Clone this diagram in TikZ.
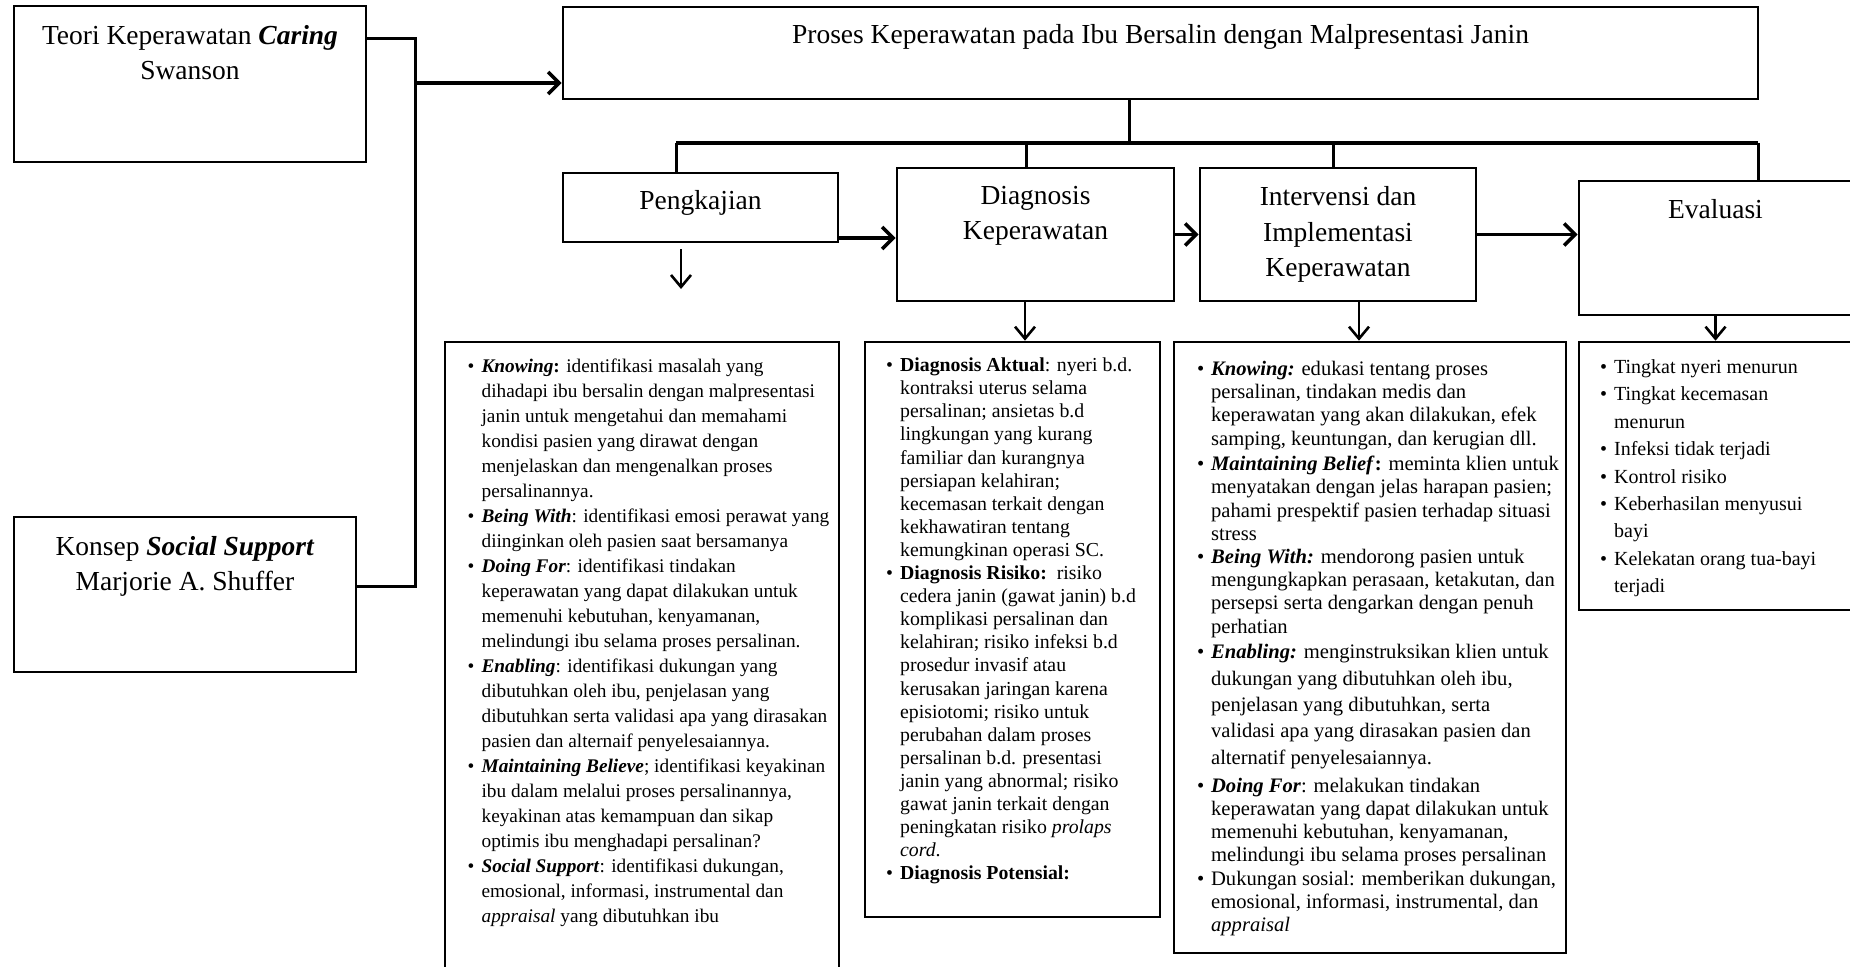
\documentclass[tikz,border=0pt]{standalone}
\usepackage{fontspec}
\setmainfont{Liberation Serif}
\usetikzlibrary{positioning, arrows.meta}
\newcommand{\lsbul}{\makebox[7pt][l]{\textbullet}}
\newcommand{\lsind}{\hspace*{7pt}}
\newcommand{\bitl}[1]{\textbf{\textit{#1}}}

\begin{document}
\begin{tikzpicture}[x=0.5pt,y=-0.5pt,
  box/.style={draw,line width=1.3pt,inner sep=0pt},
  head/.style={inner sep=0pt,align=center,font=\fontsize{13.75}{17.75}\selectfont},
  list/.style={inner sep=0pt,align=left},
  conn/.style={line width=1.5pt},
  bar/.style={line width=2.2pt},
  arr/.style={line width=1.8pt,-{Straight Barb[length=5.5pt,width=11pt]}},
  down/.style={line width=1.3pt,-{Straight Barb[length=6pt,width=10pt]}}]
\useasboundingbox (0,0) rectangle (1850,966);
\clip (0,0) rectangle (1850,966);

\node[box,minimum width=176pt,minimum height=78pt] (teori) at (190,84) {};
\node[head,below=10pt of teori.north] (teoriTxt) {Teori Keperawatan \bitl{Caring}\\Swanson};
\node[box,minimum width=171pt,minimum height=77.5pt] (konsep) at (185,594.5) {};
\node[head,below=10pt of konsep.north] (konsepTxt) {Konsep \bitl{Social Support}\\Marjorie A. Shuffer};

\node[box,minimum width=597.5pt,minimum height=46pt] (proses) at (1160.5,53) {};
\node[head,below=9pt of proses.north] (prosesTxt) {Proses Keperawatan pada Ibu Bersalin dengan Malpresentasi Janin};

\node[box,minimum width=137.5pt,minimum height=34.5pt] (peng) at (700.5,207.5) {};
\node[head,below=9pt of peng.north] (pengTxt) {Pengkajian};
\node[box,minimum width=138.5pt,minimum height=66.5pt] (diag) at (1035.5,234.5) {};
\node[head,below=9.5pt of diag.north] (diagTxt) {Diagnosis\\Keperawatan};
\node[box,minimum width=138pt,minimum height=66.5pt] (inter) at (1338,234.5) {};
\node[head,below=9.75pt of inter.north] (interTxt) {Intervensi dan\\Implementasi\\Keperawatan};
\node[box,minimum width=136.5pt,minimum height=67pt] (eval) at (1715.5,248) {};
\node[head,below=9.75pt of eval.north] (evalTxt) {Evaluasi};

\node[box,minimum width=197pt,minimum height=319pt] (pengList) at (642,661) {};
\node[box,minimum width=147.5pt,minimum height=287.5pt] (diagList) at (1012.5,629.5) {};
\node[box,minimum width=196pt,minimum height=305.5pt] (interList) at (1370,647.5) {};
\node[box,minimum width=136.5pt,minimum height=134pt] (evalList) at (1715.5,476) {};

\node[list,font=\fontsize{9.65}{12.5}\selectfont,below right=8.8pt and 11.75pt of pengList.north west] (pengItems) {%
\lsbul\bitl{Knowing}\textbf{:} identifikasi masalah yang\\
\lsind dihadapi ibu bersalin dengan malpresentasi\\
\lsind janin untuk mengetahui dan memahami\\
\lsind kondisi pasien yang dirawat dengan\\
\lsind menjelaskan dan mengenalkan proses\\
\lsind persalinannya.\\
\lsbul\bitl{Being With}: identifikasi emosi perawat yang\\
\lsind diinginkan oleh pasien saat bersamanya\\
\lsbul\bitl{Doing For}: identifikasi tindakan\\
\lsind keperawatan yang dapat dilakukan untuk\\
\lsind memenuhi kebutuhan, kenyamanan,\\
\lsind melindungi ibu selama proses persalinan.\\
\lsbul\bitl{Enabling}: identifikasi dukungan yang\\
\lsind dibutuhkan oleh ibu, penjelasan yang\\
\lsind dibutuhkan serta validasi apa yang dirasakan\\
\lsind pasien dan alternaif penyelesaiannya.\\
\lsbul\bitl{Maintaining Believe}; identifikasi keyakinan\\
\lsind ibu dalam melalui proses persalinannya,\\
\lsind keyakinan atas kemampuan dan sikap\\
\lsind optimis ibu menghadapi persalinan?\\
\lsbul\bitl{Social Support}: identifikasi dukungan,\\
\lsind emosional, informasi, instrumental dan\\
\lsind \textit{appraisal} yang dibutuhkan ibu};

\node[list,font=\fontsize{9.9}{11.55}\selectfont,below right=8.4pt and 11pt of diagList.north west] (diagItems) {%
\lsbul\textbf{Diagnosis Aktual}: nyeri b.d.\\
\lsind kontraksi uterus selama\\
\lsind persalinan; ansietas b.d\\
\lsind lingkungan yang kurang\\
\lsind familiar dan kurangnya\\
\lsind persiapan kelahiran;\\
\lsind kecemasan terkait dengan\\
\lsind kekhawatiran tentang\\
\lsind kemungkinan operasi SC.\\
\lsbul\textbf{Diagnosis Risiko:}\ \ risiko\\
\lsind cedera janin (gawat janin) b.d\\
\lsind komplikasi persalinan dan\\
\lsind kelahiran; risiko infeksi b.d\\
\lsind prosedur invasif atau\\
\lsind kerusakan jaringan karena\\
\lsind episiotomi; risiko untuk\\
\lsind perubahan dalam proses\\
\lsind persalinan b.d. presentasi\\
\lsind janin yang abnormal; risiko\\
\lsind gawat janin terkait dengan\\
\lsind peningkatan risiko \textit{prolaps}\\
\lsind \textit{cord}.\\
\lsbul\textbf{Diagnosis Potensial:}};

\node[list,font=\fontsize{10.3}{11.6}\selectfont,below right=10pt and 12pt of interList.north west] (interItems) {%
\lsbul\bitl{Knowing:} edukasi tentang proses\\
\lsind persalinan, tindakan medis dan\\
\lsind keperawatan yang akan dilakukan, efek\\
\lsind samping, keuntungan, dan kerugian dll.\\[1.2pt]
\lsbul\bitl{Maintaining Belief}\textbf{:} meminta klien untuk\\
\lsind menyatakan dengan jelas harapan pasien;\\
\lsind pahami prespektif pasien terhadap situasi\\
\lsind stress\\
\lsbul\bitl{Being With:} mendorong pasien untuk\\
\lsind mengungkapkan perasaan, ketakutan, dan\\
\lsind persepsi serta dengarkan dengan penuh\\
\lsind perhatian\\[1.2pt]
\lsbul\bitl{Enabling:} menginstruksikan klien untuk\\[1.6pt]
\lsind dukungan yang dibutuhkan oleh ibu,\\[1.6pt]
\lsind penjelasan yang dibutuhkan, serta\\[1.6pt]
\lsind validasi apa yang dirasakan pasien dan\\[1.6pt]
\lsind alternatif penyelesaiannya.\\[2.4pt]
\lsbul\bitl{Doing For}: melakukan tindakan\\
\lsind keperawatan yang dapat dilakukan untuk\\
\lsind memenuhi kebutuhan, kenyamanan,\\
\lsind melindungi ibu selama proses persalinan\\
\lsbul Dukungan sosial: memberikan dukungan,\\
\lsind emosional, informasi, instrumental, dan\\
\lsind \textit{appraisal}};

\node[list,font=\fontsize{10}{13.7}\selectfont,below right=9.3pt and 11pt of evalList.north west] (evalItems) {%
\lsbul Tingkat nyeri menurun\\
\lsbul Tingkat kecemasan\\
\lsind menurun\\
\lsbul Infeksi tidak terjadi\\
\lsbul Kontrol risiko\\
\lsbul Keberhasilan menyusui\\
\lsind bayi\\
\lsbul Kelekatan orang tua-bayi\\
\lsind terjadi};

\coordinate (jTop) at (415,38);
\coordinate (jMid) at (415,83);
\coordinate (jBot) at (415,586);
\draw[conn] (teori.east |- jTop) -- (jTop) -- (jBot) -- (konsep.east |- jBot);
\draw[arr] (jMid) -- (proses.west |- jMid);

\coordinate (trunk) at (1129,143);
\coordinate (barL) at (676,143);
\coordinate (barR) at (1758,143);
\coordinate (dDiag) at (1026,143);
\coordinate (dInter) at (1333,143);
\draw[conn] (trunk |- proses.south) -- (trunk);
\draw[bar] (barL) -- (barR);
\draw[conn] (barL) -- (barL |- peng.north);
\draw[conn] (dDiag) -- (dDiag |- diag.north);
\draw[conn] (dInter) -- (dInter |- inter.north);
\draw[conn] (barR) -- (barR |- eval.north);

\coordinate (pdY) at (0,238);
\draw[arr] (peng.east |- pdY) -- (diag.west |- pdY);
\draw[arr] (diag.east) -- (inter.west);
\draw[arr] (inter.east) -- (inter.east -| eval.west);

\coordinate (pA) at (681,249);
\coordinate (pB) at (681,289);
\coordinate (dgx) at (1025,0);
\coordinate (itx) at (1359,0);
\draw[down] (pA) -- (pB);
\draw[down] (diag.south -| dgx) -- (diagList.north -| dgx);
\draw[down] (inter.south -| itx) -- (interList.north -| itx);
\draw[down] (eval.south) -- (evalList.north);
\end{tikzpicture}
\end{document}
